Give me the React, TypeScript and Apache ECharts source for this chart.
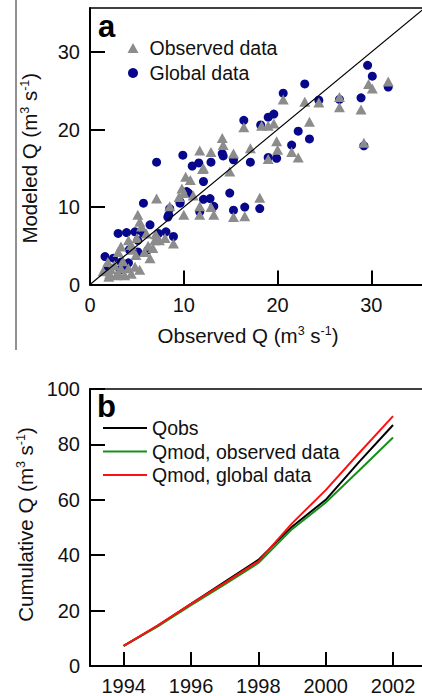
import React, { useEffect, useRef } from 'react';
import * as echarts from 'echarts';

// Panel a: modeled vs observed discharge (m3 s-1), pairs [observed, modeled]
const observedDataPoints: number[][] = [
  [1.4, 1.7], [1.9, 2.9], [2.1, 1.4], [2.6, 2.5], [2.8, 1.2], [3.0, 4.2], [3.3, 2.1], [3.3, 4.9],
  [3.7, 1.2], [4.1, 2.1], [4.1, 5.7], [4.4, 1.4], [4.4, 5.1], [4.8, 2.3], [4.9, 3.8], [5.1, 9.0],
  [5.3, 1.9], [5.3, 8.1], [5.5, 7.5], [5.8, 4.2], [6.0, 6.6], [6.4, 3.4], [6.7, 4.7], [6.9, 5.7],
  [7.1, 11.1], [7.4, 5.7], [8.0, 6.0], [8.5, 10.1], [8.9, 5.3], [9.5, 11.3], [9.8, 12.4], [10.0, 9.0],
  [10.0, 11.8], [10.2, 13.9], [10.7, 13.5], [11.0, 11.5], [11.7, 9.0], [11.7, 10.1], [11.7, 17.3],
  [12.0, 14.9], [12.1, 15.0], [12.9, 10.0], [12.9, 17.1], [13.2, 9.0], [14.1, 18.9], [14.2, 18.0],
  [14.9, 14.6], [15.3, 8.7], [15.3, 16.9], [16.4, 20.3], [16.5, 8.8], [17.1, 17.6], [18.1, 11.2],
  [18.3, 20.5], [19.0, 20.5], [19.0, 16.2], [19.6, 20.8], [19.9, 18.5], [20.0, 17.4], [20.6, 23.9],
  [21.5, 17.1], [22.2, 16.4], [22.9, 23.6], [23.4, 21.0], [24.4, 23.5], [26.6, 24.2], [26.6, 22.9],
  [28.9, 22.6], [29.2, 18.3], [29.7, 25.9], [30.1, 25.3], [31.8, 26.2],
  [2.2, 2.0], [3.5, 3.0], [4.5, 4.5], [5.0, 6.0], [6.2, 5.0], [7.0, 6.5], [2.0, 1.0], [3.0, 1.5]
];

const globalDataPoints: number[][] = [
  [1.6, 3.6], [1.9, 2.3], [2.5, 3.4], [3.0, 6.6], [3.2, 1.9], [3.3, 2.9], [3.7, 2.5], [3.9, 6.7],
  [4.1, 2.8], [4.2, 4.5], [4.8, 6.8], [5.1, 4.2], [5.1, 5.7], [5.7, 6.6], [5.7, 10.5], [6.2, 4.5],
  [6.4, 7.7], [7.1, 15.8], [7.3, 6.6], [8.1, 6.8], [8.3, 8.7], [8.4, 9.0], [8.5, 9.8], [8.9, 6.2],
  [9.6, 10.5], [9.6, 10.7], [9.9, 16.7], [10.3, 12.0], [10.5, 11.8], [10.9, 15.3], [11.6, 15.7],
  [11.7, 9.4], [12.1, 11.0], [12.1, 13.3], [12.8, 11.1], [12.9, 15.8], [13.2, 10.1], [14.1, 16.9],
  [14.2, 16.6], [14.9, 11.8], [15.3, 9.6], [15.3, 16.1], [16.4, 21.2], [16.5, 10.0], [17.1, 15.8],
  [18.1, 9.8], [18.2, 20.6], [19.0, 21.6], [19.0, 16.4], [19.6, 22.0], [19.9, 16.3], [20.6, 24.7],
  [21.5, 18.0], [22.2, 19.8], [22.9, 25.9], [23.4, 18.8], [24.4, 23.8], [26.6, 23.9], [28.9, 24.1],
  [29.2, 17.9], [29.6, 28.3], [30.1, 26.9], [31.8, 25.5]
];

const oneToOne: number[][] = [[0, 0], [40, 40]];
const scatterTicks = [0, 10, 20, 30];

// Panel b: cumulative discharge
const years = [1994, 1995, 1996, 1997, 1998, 1999, 2000, 2001, 2002];
const qObs = [7.3, 14.4, 22.4, 30.4, 38.3, 50.3, 60.0, 73.8, 87.0];
const qModObserved = [7.3, 14.2, 22.0, 29.5, 37.2, 49.4, 59.0, 70.7, 82.5];
const qModGlobal = [7.3, 14.6, 22.4, 30.0, 37.8, 51.5, 63.5, 77.0, 90.2];
const yearTicks = [1994, 1996, 1998, 2000, 2002];
const cumTicks = [0, 20, 40, 60, 80, 100];

const FONT = "'Liberation Sans', Arial, Helvetica, sans-serif";

const unitName = (prefix: string) => `{a|${prefix} (m}{b|3}{a| s}{b|-1}{a|)}`;
const nameRich = {
  a: { fontSize: 20.5, fontFamily: FONT, color: '#111', lineHeight: 22 },
  b: { fontSize: 12.5, fontFamily: FONT, color: '#111', verticalAlign: 'top', lineHeight: 22 },
};

export default function App() {
  const ref = useRef<HTMLDivElement>(null);
  useEffect(() => {
    if (!ref.current) return;
    const chart = echarts.init(ref.current, undefined, { renderer: 'svg' });
    const axisLine = { show: true, lineStyle: { color: '#000', width: 2 } };
    const topLine = { show: true, lineStyle: { color: '#000', width: 1.5 } };
    const label = (vals: number[]) => ({
      customValues: vals, fontSize: 20, color: '#111', fontFamily: FONT, margin: 10,
      formatter: (v: number) => String(v),
    });
    const tick = (vals: number[]) => ({
      show: true, inside: true, length: 14, customValues: vals,
      lineStyle: { color: '#000', width: 2 },
    });
    const lineSeries = (name: string, data: number[], color: string) => ({
      name, type: 'line', xAxisIndex: 2, yAxisIndex: 1,
      data: years.map((y, i) => [y, data[i]]),
      showSymbol: false, symbol: 'none',
      lineStyle: { color, width: 2 }, itemStyle: { color },
    });

    chart.setOption({
      animation: false,
      backgroundColor: '#fff',
      textStyle: { fontFamily: FONT },
      grid: [
        { left: 90, top: 8, width: 332, height: 276.5 },
        { left: 90, top: 389, width: 332, height: 277 },
      ],
      xAxis: [
        {
          gridIndex: 0, type: 'value', min: 0, max: 35.4, position: 'bottom',
          axisLine, axisTick: tick(scatterTicks), axisLabel: label(scatterTicks),
          splitLine: { show: false },
          name: unitName('Observed Q'), nameLocation: 'middle', nameGap: 40,
          nameTextStyle: { rich: nameRich, padding: [0, 16, 0, 0] },
        },
        {
          gridIndex: 0, type: 'value', min: 0, max: 35.4, position: 'top',
          axisLine: topLine, axisTick: { show: false }, axisLabel: { show: false },
          splitLine: { show: false },
        },
        {
          gridIndex: 1, type: 'value', min: 1993, max: 2002.86, position: 'bottom',
          axisLine, axisTick: tick(yearTicks), axisLabel: label(yearTicks),
          splitLine: { show: false },
        },
        {
          gridIndex: 1, type: 'value', min: 1993, max: 2002.86, position: 'top',
          axisLine: topLine, axisTick: { show: false }, axisLabel: { show: false },
          splitLine: { show: false },
        },
      ],
      yAxis: [
        {
          gridIndex: 0, type: 'value', min: 0, max: 35.7,
          axisLine, axisTick: { ...tick(scatterTicks), length: 15 }, axisLabel: label(scatterTicks),
          splitLine: { show: false },
          name: unitName('Modeled Q'), nameLocation: 'middle', nameGap: 50,
          nameTextStyle: { rich: nameRich, padding: [0, 24, 0, 0] },
        },
        {
          gridIndex: 1, type: 'value', min: 0, max: 100,
          axisLine, axisTick: { ...tick(cumTicks), length: 15 }, axisLabel: label(cumTicks),
          splitLine: { show: false },
          name: unitName('Cumulative Q'), nameLocation: 'middle', nameGap: 50,
          nameTextStyle: { rich: nameRich, padding: [0, 0, 0, 6] },
        },
      ],
      legend: [
        {
          data: [
            { name: 'Observed data', icon: 'triangle' },
            { name: 'Global data', icon: 'circle' },
          ],
          orient: 'vertical', left: 127.5, top: 38, itemWidth: 11, itemHeight: 10, itemGap: 5,
          padding: 0, selectedMode: false,
          textStyle: { fontSize: 19.5, color: '#111', fontFamily: FONT, lineHeight: 20, padding: [0, 0, 0, 6] },
        },
        {
          data: [
            { name: 'Qobs', icon: 'rect' },
            { name: 'Qmod, observed data', icon: 'rect' },
            { name: 'Qmod, global data', icon: 'rect' },
          ],
          orient: 'vertical', left: 103, top: 418, itemWidth: 44, itemHeight: 2, itemGap: 3.5,
          padding: 0, selectedMode: false,
          textStyle: { fontSize: 19.5, color: '#111', fontFamily: FONT, lineHeight: 20 },
        },
      ],
      series: [
        {
          name: '1:1', type: 'line', xAxisIndex: 0, yAxisIndex: 0, data: oneToOne,
          showSymbol: false, symbol: 'none', clip: true, silent: true,
          lineStyle: { color: '#000', width: 1.2 },
        },
        {
          name: 'Global data', type: 'scatter', xAxisIndex: 0, yAxisIndex: 0,
          data: globalDataPoints, symbol: 'circle', symbolSize: 9,
          itemStyle: { color: '#07078c', opacity: 1 },
        },
        {
          name: 'Observed data', type: 'scatter', xAxisIndex: 0, yAxisIndex: 0,
          data: observedDataPoints, symbol: 'triangle', symbolSize: [11, 10],
          itemStyle: { color: '#8c8c8c', opacity: 1 },
        },
        lineSeries('Qobs', qObs, '#000000'),
        lineSeries('Qmod, observed data', qModObserved, '#17901a'),
        lineSeries('Qmod, global data', qModGlobal, '#ff1010'),
      ],
      graphic: [
        {
          type: 'line', shape: { x1: 16, y1: 0, x2: 16, y2: 350 },
          style: { stroke: '#222', lineWidth: 1 }, silent: true,
        },
        {
          type: 'text', x: 98, y: 26,
          style: { text: 'a', fontSize: 31, fontWeight: 'bold', fontFamily: FONT, fill: '#000', verticalAlign: 'middle' },
        },
        {
          type: 'text', x: 97, y: 406,
          style: { text: 'b', fontSize: 31, fontWeight: 'bold', fontFamily: FONT, fill: '#000', verticalAlign: 'middle' },
        },
      ],
    });
    return () => chart.dispose();
  }, []);
  return (
    <div
      ref={ref}
      style={{ position: 'fixed', left: 0, top: 0, width: 422, height: 696, background: '#fff' }}
    />
  );
}
